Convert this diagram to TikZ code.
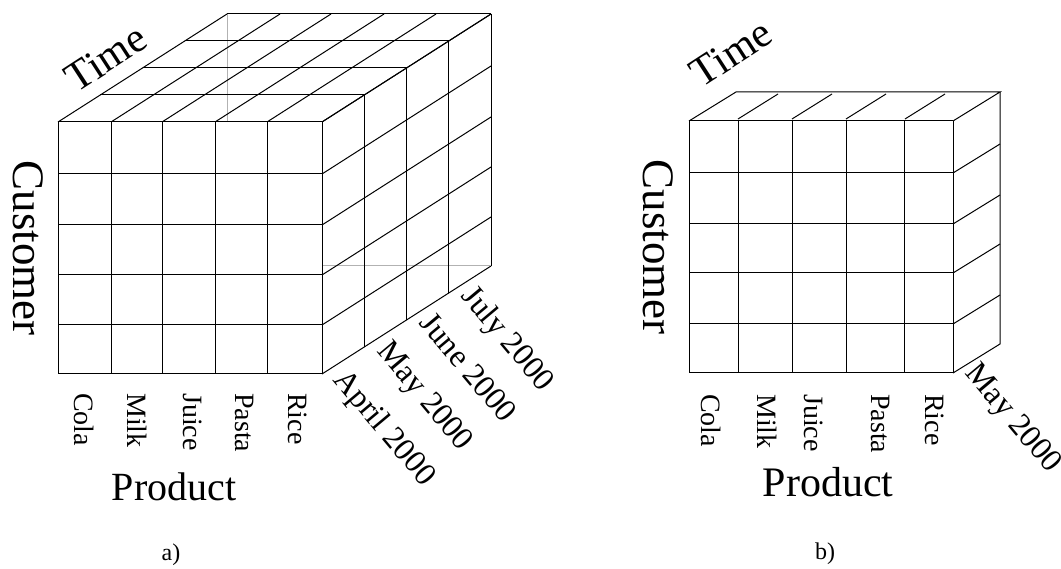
\documentclass[tikz,border=0pt]{standalone}
\usepackage{fontspec}
\setmainfont{Liberation Serif}
\usepackage{tikz}
\tikzstyle{canvas} = [x = 1pt, y = -1pt]
\tikzstyle{gridLine} = [color=black, line width=1pt]
\tikzstyle{hiddenLine} = [color=black!30, line width=1pt]
\tikzstyle{axisText} = [font=\fontsize{42}{42}\selectfont, inner sep=0pt]
\tikzstyle{itemText} = [font=\fontsize{28}{28}\selectfont, inner sep=0pt, rotate=-90, anchor=west]
\tikzstyle{monthText} = [font=\fontsize{32}{32}\selectfont, inner sep=0pt, rotate=-50, anchor=north west]
\tikzstyle{captionText} = [font=\fontsize{24}{24}\selectfont, inner sep=0pt]
% front face: #1 column list, #2 row list, #3 left, #4 right, #5 top, #6 bottom
\newcommand{\frontGrid}[6]{
  \foreach \col in {#1} {\draw [gridLine] (\col,#5) -- (\col,#6);}
  \foreach \row in {#2} {\draw [gridLine] (#3,\row) -- (#4,\row);}
}

\begin{document}
\begin{tikzpicture}[canvas]
  \useasboundingbox (0,0) rectangle (1061,569);

  % a) four monthly slices
  \draw [hiddenLine] (227,14) -- (227,122);
  \draw [hiddenLine] (322,266) -- (490,266);
  \frontGrid{58,111,162,215,267,322}{122,174,225,275,325,374}{58}{322}{122}{374}
  \foreach \col in {58,111,162,215,267,322} {\draw [gridLine] (\col,122) -- +(169,-108);}
  \foreach \row in {122,174,225,275,325,374} {\draw [gridLine] (322,\row) -- +(169,-108);}
  \foreach \k in {1,...,4} {
    \pgfmathsetmacro{\dx}{42.25 * \k}
    \pgfmathsetmacro{\dy}{27 * \k}
    \draw [gridLine] (58 + \dx, 122 - \dy) -- +(264,0);
    \draw [gridLine] (322 + \dx, 122 - \dy) -- +(0,252);
  }

  \node [axisText, rotate=33] (timeA) at (106,58) {Time};
  \node [axisText, font=\fontsize{45}{45}\selectfont, rotate=-90] (customerA) at (28,248) {Customer};
  \node [axisText, font=\fontsize{40}{40}\selectfont] (productA) at (174,487) {Product};
  \node [itemText] (colaA) at (84,393) {Cola};
  \node [itemText] (milkA) at (137,393) {Milk};
  \node [itemText] (juiceA) at (193,393) {Juice};
  \node [itemText] (pastaA) at (245,393) {Pasta};
  \node [itemText] (riceA) at (298,393) {Rice};
  \node [monthText] (aprilA) at (350,366) {April 2000};
  \node [monthText] (mayA) at (392.5,338) {May 2000};
  \node [monthText] (juneA) at (435,310) {June 2000};
  \node [monthText] (julyA) at (477.5,282) {July 2000};
  \node [captionText] (capA) at (171,555) {a)};

  % b) the single May slice
  \frontGrid{689,738,792,846,904,953}{121,173,224,273,324,373}{689}{953}{121}{373}
  \draw [gridLine] (689,121) -- (736,92) -- (1000,92) -- (953,121);
  \draw [gridLine] (1000,92) -- (1000,344) -- (953,373);
  \foreach \row in {173,224,273,324} {\draw [gridLine] (953,\row) -- +(47,-29);}
  \foreach \col in {738,792,846,905} {\draw [gridLine] (\col,119) -- +(40,-25);}

  \node [axisText, rotate=33] (timeB) at (731,53) {Time};
  \node [axisText, font=\fontsize{45}{45}\selectfont, rotate=-90] (customerB) at (658,247) {Customer};
  \node [axisText] (productB) at (828,482) {Product};
  \node [itemText] (colaB) at (711,394) {Cola};
  \node [itemText] (milkB) at (767,394) {Milk};
  \node [itemText] (juiceB) at (814,394) {Juice};
  \node [itemText] (pastaB) at (881,394) {Pasta};
  \node [itemText] (riceB) at (935,394) {Rice};
  \node [monthText] (mayB) at (981,360) {May 2000};
  \node [captionText] (capB) at (825,554) {b)};
\end{tikzpicture}
\end{document}
